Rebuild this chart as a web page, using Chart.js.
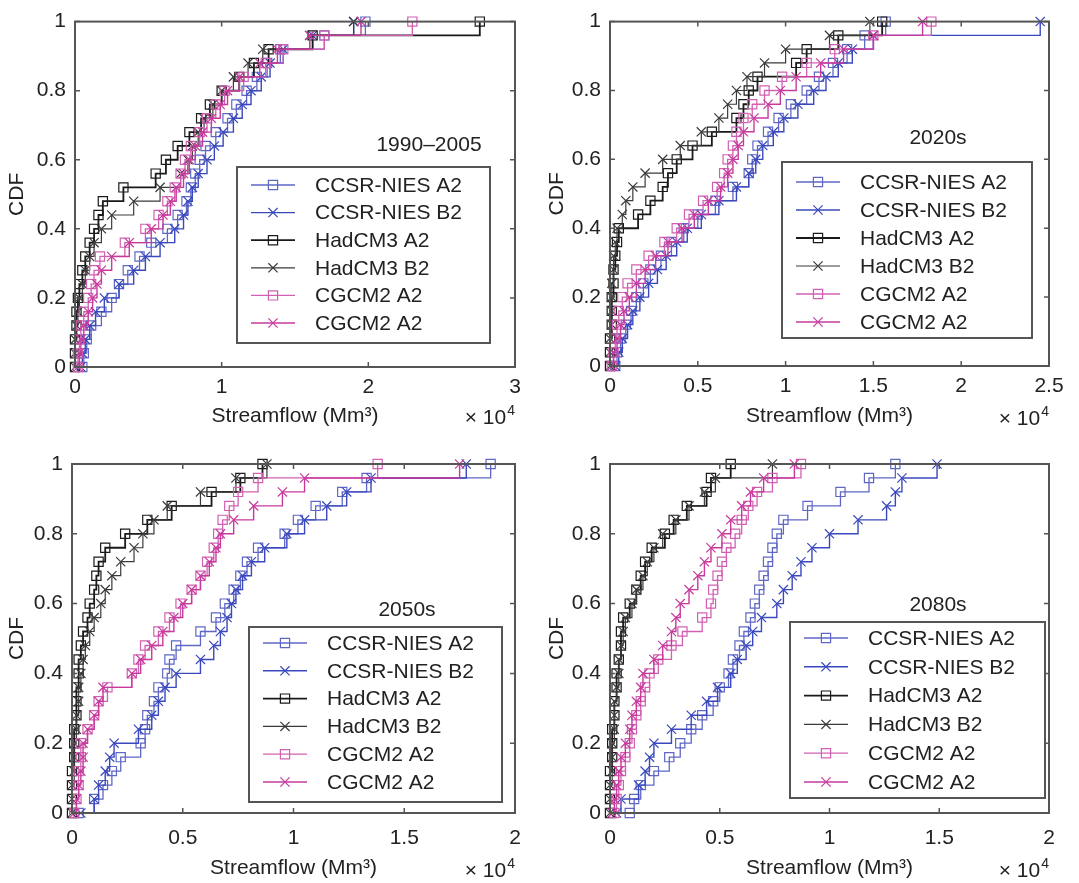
<!DOCTYPE html>
<html>
<head>
<meta charset="utf-8">
<script src="https://cdn.jsdelivr.net/npm/chart.js"></script>
<style>
  body { margin: 0; background: #fff; width: 1079px; height: 883px; position: relative; overflow: hidden; }
  canvas { position: absolute; }
</style>
</head>
<body>
<canvas id="p1990" width="540" height="440" style="left:0;top:0"></canvas>
<canvas id="p2020" width="539" height="440" style="left:540px;top:0"></canvas>
<canvas id="p2050" width="540" height="443" style="left:0;top:440px"></canvas>
<canvas id="p2080" width="539" height="443" style="left:540px;top:440px"></canvas>
<script>
// CDF levels shared by every curve; streamflow values are in units of 10^4 Mm3
const cdfLevels = [0, 0.04, 0.08, 0.12, 0.16, 0.2, 0.24, 0.28, 0.32, 0.36, 0.4, 0.44, 0.48,
                   0.52, 0.56, 0.6, 0.64, 0.68, 0.72, 0.76, 0.8, 0.84, 0.88, 0.92, 0.96, 1];

const seriesNames = ['CCSR-NIES A2', 'CCSR-NIES B2', 'HadCM3 A2', 'HadCM3 B2', 'CGCM2 A2', 'CGCM2 A2'];

// 1990-2005
const ccsrA2_1990 = [0.05,0.06,0.08,0.11,0.18,0.25,0.3,0.36,0.44,0.52,0.63,0.7,0.76,0.79,0.82,0.85,0.89,0.96,1.04,1.1,1.17,1.24,1.31,1.4,1.7,1.98];
const ccsrB2_1990 = [0.04,0.05,0.07,0.1,0.14,0.2,0.3,0.4,0.48,0.58,0.68,0.74,0.77,0.8,0.84,0.9,0.95,1.01,1.08,1.14,1.2,1.27,1.33,1.42,1.62,1.9];
const hadA2_1990  = [0,0,0,0.01,0.01,0.02,0.03,0.05,0.07,0.1,0.13,0.16,0.19,0.33,0.55,0.62,0.7,0.78,0.86,0.92,1.0,1.12,1.22,1.32,1.62,2.76];
const hadB2_1990  = [0,0,0,0.01,0.02,0.03,0.05,0.07,0.1,0.13,0.18,0.25,0.4,0.58,0.72,0.77,0.8,0.84,0.88,0.94,1.0,1.08,1.18,1.28,1.6,1.9];
const cgA2_1990   = [0.02,0.02,0.03,0.04,0.06,0.09,0.11,0.13,0.17,0.34,0.48,0.57,0.63,0.68,0.72,0.75,0.79,0.85,0.9,0.96,1.02,1.15,1.3,1.42,1.7,2.3];
const cgB2_1990   = [0.02,0.03,0.04,0.06,0.09,0.12,0.15,0.18,0.25,0.37,0.52,0.6,0.65,0.69,0.74,0.78,0.82,0.87,0.93,0.99,1.04,1.12,1.26,1.38,1.6,1.95];

// 2020s
const ccsrA2_2020 = [0.03,0.04,0.06,0.09,0.12,0.15,0.19,0.23,0.29,0.35,0.42,0.5,0.6,0.7,0.79,0.81,0.84,0.9,0.96,1.03,1.12,1.19,1.27,1.35,1.45,1.57];
const ccsrB2_2020 = [0.03,0.05,0.07,0.1,0.13,0.17,0.22,0.27,0.32,0.38,0.44,0.52,0.62,0.72,0.79,0.83,0.87,0.93,0.99,1.07,1.16,1.23,1.3,1.38,1.5,2.45];
const hadA2_2020  = [0,0,0,0.01,0.01,0.01,0.02,0.02,0.03,0.04,0.05,0.16,0.23,0.3,0.33,0.38,0.47,0.58,0.72,0.76,0.79,0.84,1.06,1.12,1.3,1.55];
const hadB2_2020  = [0,0,0,0.01,0.01,0.01,0.01,0.02,0.02,0.03,0.04,0.07,0.09,0.13,0.2,0.3,0.4,0.52,0.62,0.67,0.72,0.78,0.88,1.0,1.25,1.48];
const cgA2_2020   = [0.01,0.02,0.03,0.04,0.05,0.07,0.1,0.15,0.22,0.31,0.38,0.45,0.53,0.61,0.65,0.67,0.7,0.72,0.76,0.81,0.88,0.98,1.12,1.28,1.5,1.83];
const cgB2_2020   = [0.01,0.02,0.04,0.06,0.08,0.11,0.15,0.2,0.26,0.33,0.41,0.48,0.56,0.63,0.67,0.7,0.73,0.76,0.82,0.9,0.97,1.06,1.2,1.33,1.5,1.78];

// 2050s
const ccsrA2_2050 = [0.03,0.1,0.14,0.18,0.22,0.31,0.33,0.34,0.37,0.39,0.43,0.44,0.47,0.58,0.65,0.69,0.73,0.76,0.79,0.84,0.96,1.02,1.1,1.22,1.33,1.89];
const ccsrB2_2050 = [0.04,0.1,0.12,0.15,0.17,0.19,0.3,0.36,0.39,0.42,0.47,0.58,0.64,0.67,0.7,0.72,0.74,0.77,0.81,0.87,0.97,1.05,1.15,1.24,1.35,1.78];
const hadA2_2050  = [0,0,0,0,0.01,0.01,0.01,0.02,0.02,0.02,0.03,0.03,0.04,0.05,0.07,0.08,0.1,0.11,0.12,0.15,0.24,0.34,0.45,0.63,0.76,0.86];
const hadB2_2050  = [0,0,0,0.01,0.01,0.01,0.02,0.02,0.03,0.03,0.04,0.05,0.06,0.08,0.1,0.13,0.15,0.18,0.22,0.28,0.32,0.37,0.43,0.58,0.74,0.88];
const cgA2_2050   = [0.01,0.02,0.03,0.03,0.04,0.04,0.07,0.1,0.12,0.16,0.27,0.3,0.33,0.39,0.44,0.49,0.54,0.58,0.61,0.64,0.66,0.68,0.71,0.75,0.84,1.38];
const cgB2_2050   = [0.01,0.02,0.03,0.04,0.05,0.05,0.07,0.1,0.12,0.14,0.27,0.31,0.36,0.41,0.46,0.5,0.54,0.58,0.62,0.65,0.67,0.73,0.82,0.95,1.05,1.75];

// 2080s
const ccsrA2_2080 = [0.09,0.11,0.14,0.2,0.27,0.32,0.37,0.42,0.47,0.5,0.54,0.56,0.59,0.61,0.64,0.66,0.68,0.7,0.72,0.74,0.76,0.79,0.9,1.05,1.18,1.3];
const ccsrB2_2080 = [0.03,0.05,0.13,0.16,0.18,0.2,0.28,0.37,0.44,0.49,0.55,0.58,0.62,0.65,0.69,0.76,0.79,0.83,0.87,0.92,1.0,1.13,1.26,1.3,1.33,1.49];
const hadA2_2080  = [0,0,0,0,0.01,0.01,0.01,0.02,0.02,0.03,0.03,0.04,0.05,0.05,0.06,0.09,0.12,0.14,0.16,0.19,0.25,0.29,0.35,0.44,0.46,0.55];
const hadB2_2080  = [0,0,0,0.01,0.01,0.01,0.02,0.02,0.02,0.03,0.04,0.04,0.05,0.06,0.07,0.1,0.12,0.15,0.17,0.2,0.24,0.3,0.36,0.43,0.48,0.74];
const cgA2_2080   = [0.02,0.03,0.04,0.05,0.07,0.09,0.1,0.12,0.14,0.16,0.18,0.22,0.28,0.33,0.42,0.46,0.47,0.49,0.51,0.53,0.57,0.6,0.63,0.67,0.74,0.87];
const cgB2_2080   = [0.01,0.02,0.03,0.04,0.05,0.07,0.09,0.1,0.12,0.14,0.15,0.2,0.24,0.28,0.3,0.32,0.36,0.4,0.43,0.46,0.51,0.55,0.6,0.64,0.7,0.84];

// tick labels
const xTicks1990 = [0, 1, 2, 3];
const xTicks2020 = [0, 0.5, 1, 1.5, 2, 2.5];
const xTicks2050 = [0, 0.5, 1, 1.5, 2];
const yTicks = [0, 0.2, 0.4, 0.6, 0.8, 1];

// styles
const seriesColors = ['#5f67c6', '#3a48bd', '#1a1a1a', '#3a3a3a', '#d260b2', '#c73a9c'];
const seriesMarkers = ['rect', 'crossRot', 'rect', 'crossRot', 'rect', 'crossRot'];
const seriesWidths = [1.3, 1.4, 1.8, 1.2, 1.3, 1.4];

const FONT = '"Liberation Sans", Arial, sans-serif';
const INK = '#222';
const FRAME = '#555';

function drawMarker(ctx, style, cx, cy, r) {
    const s = r * Math.SQRT1_2;
    ctx.beginPath();
    if (style === 'rect') {
        ctx.rect(cx - s, cy - s, 2 * s, 2 * s);
    } else {
        ctx.moveTo(cx - s, cy - s); ctx.lineTo(cx + s, cy + s);
        ctx.moveTo(cx - s, cy + s); ctx.lineTo(cx + s, cy - s);
    }
    ctx.stroke();
}

// frame, inward ticks, boxed legend, period label and the x10^4 note
const panelDecor = {
    id: 'panelDecor',
    afterDatasetsDraw(chart, args, g) {
        const { ctx, chartArea: a, scales: { x, y } } = chart;
        ctx.save();

        ctx.strokeStyle = FRAME;
        ctx.lineWidth = 1.5;
        ctx.beginPath();
        x.ticks.forEach(t => {
            const px = x.getPixelForValue(t.value);
            ctx.moveTo(px, a.bottom); ctx.lineTo(px, a.bottom - 5);
            ctx.moveTo(px, a.top); ctx.lineTo(px, a.top + 5);
        });
        y.ticks.forEach(t => {
            const py = y.getPixelForValue(t.value);
            ctx.moveTo(a.left, py); ctx.lineTo(a.left + 5, py);
            ctx.moveTo(a.right, py); ctx.lineTo(a.right - 5, py);
        });
        ctx.stroke();
        ctx.lineWidth = 2;
        ctx.strokeRect(a.left, a.top, a.right - a.left, a.bottom - a.top);

        // legend
        const L = g.legend;
        ctx.fillStyle = '#fff';
        ctx.fillRect(L.x, L.y, L.w, L.h);
        ctx.strokeStyle = FRAME;
        ctx.lineWidth = 2;
        ctx.strokeRect(L.x, L.y, L.w, L.h);
        ctx.font = '21px ' + FONT;
        ctx.textAlign = 'left';
        ctx.textBaseline = 'middle';
        chart.data.datasets.forEach((ds, i) => {
            const yy = L.y0 + i * L.step;
            ctx.strokeStyle = ds.borderColor;
            ctx.lineWidth = ds.borderWidth;
            ctx.beginPath();
            ctx.moveTo(L.x + 14, yy); ctx.lineTo(L.x + 58, yy);
            ctx.stroke();
            ctx.lineWidth = 1.2;
            drawMarker(ctx, ds.pointStyle, L.x + 36, yy, ds.pointRadius);
            ctx.fillStyle = INK;
            ctx.fillText(ds.label, L.x + 78, yy + 1);
        });

        // period label
        ctx.fillStyle = INK;
        ctx.textAlign = 'center';
        ctx.fillText(g.label, g.labelX, g.labelY);

        // x 10^4
        ctx.textAlign = 'right';
        ctx.textBaseline = 'alphabetic';
        ctx.font = '14px ' + FONT;
        const supW = ctx.measureText('4').width;
        ctx.fillText('4', a.right, g.expY - 9);
        ctx.font = '21px ' + FONT;
        ctx.fillText('\u00d7 10', a.right - supW - 1, g.expY);

        ctx.restore();
    }
};

function makePanel(id, flows, xTicks, g) {
    const datasets = flows.map((xs, i) => ({
        label: seriesNames[i],
        data: xs.map((v, k) => ({ x: v, y: cdfLevels[k] })),
        borderColor: seriesColors[i],
        backgroundColor: 'rgba(0,0,0,0)',
        borderWidth: seriesWidths[i],
        stepped: true,
        fill: false,
        pointStyle: seriesMarkers[i],
        pointRadius: 6.5,
        pointBorderWidth: 1.2,
        pointBorderColor: seriesColors[i],
        pointBackgroundColor: 'rgba(0,0,0,0)',
        order: 5 - i,
        clip: 8
    }));

    new Chart(document.getElementById(id), {
        type: 'line',
        data: { datasets },
        plugins: [panelDecor],
        options: {
            responsive: false,
            animation: false,
            devicePixelRatio: 1,
            events: [],
            layout: { padding: { left: 0, right: g.rightPad, top: g.topPad, bottom: 0 } },
            scales: {
                x: {
                    type: 'linear',
                    min: xTicks[0],
                    max: xTicks[xTicks.length - 1],
                    afterBuildTicks: s => { s.ticks = xTicks.map(v => ({ value: v })); },
                    afterFit: s => { s.height = g.xAxisH; },
                    grid: { display: false, drawTicks: false },
                    border: { display: false },
                    ticks: { padding: g.tickPad, color: INK, font: { family: FONT, size: 21 },
                             maxRotation: 0, autoSkip: false, callback: v => String(v) },
                    title: { display: true, text: 'Streamflow (Mm\u00b3)', color: INK,
                             font: { family: FONT, size: 21 }, padding: { top: 0, bottom: g.titlePad } }
                },
                y: {
                    type: 'linear',
                    min: 0,
                    max: 1,
                    afterBuildTicks: s => { s.ticks = yTicks.map(v => ({ value: v })); },
                    afterFit: s => { s.width = g.left; },
                    grid: { display: false, drawTicks: false },
                    border: { display: false },
                    ticks: { padding: 9, color: INK, font: { family: FONT, size: 21 }, callback: v => String(v) },
                    title: { display: true, text: 'CDF', color: INK,
                             font: { family: FONT, size: 21 }, padding: { top: 5, bottom: 0 } }
                }
            },
            plugins: {
                legend: { display: false },
                tooltip: { enabled: false },
                panelDecor: g
            }
        }
    });
}

makePanel('p1990', [ccsrA2_1990, ccsrB2_1990, hadA2_1990, hadB2_1990, cgA2_1990, cgB2_1990], xTicks1990, {
    left: 75, rightPad: 25, topPad: 18, xAxisH: 73, tickPad: 8, titlePad: 11,
    label: '1990\u20132005', labelX: 429, labelY: 145, expY: 424,
    legend: { x: 237, y: 167, w: 253, h: 176, y0: 185, step: 27.6 }
});
makePanel('p2020', [ccsrA2_2020, ccsrB2_2020, hadA2_2020, hadB2_2020, cgA2_2020, cgB2_2020], xTicks2020, {
    left: 70, rightPad: 30, topPad: 18, xAxisH: 74, tickPad: 8, titlePad: 11,
    label: '2020s', labelX: 398, labelY: 138, expY: 425,
    legend: { x: 242, y: 162, w: 250, h: 176, y0: 182, step: 28 }
});
makePanel('p2050', [ccsrA2_2050, ccsrB2_2050, hadA2_2050, hadB2_2050, cgA2_2050, cgB2_2050], xTicks2050, {
    left: 72, rightPad: 25, topPad: 24, xAxisH: 70, tickPad: 13, titlePad: 2,
    label: '2050s', labelX: 407, labelY: 170, expY: 437,
    legend: { x: 249, y: 187, w: 253, h: 175, y0: 203, step: 27.8 }
});
makePanel('p2080', [ccsrA2_2080, ccsrB2_2080, hadA2_2080, hadB2_2080, cgA2_2080, cgB2_2080], xTicks2050, {
    left: 70, rightPad: 30, topPad: 24, xAxisH: 70, tickPad: 13, titlePad: 2,
    label: '2080s', labelX: 398, labelY: 165, expY: 437,
    legend: { x: 250, y: 182, w: 255, h: 176, y0: 198, step: 28.8 }
});
</script>
</body>
</html>
